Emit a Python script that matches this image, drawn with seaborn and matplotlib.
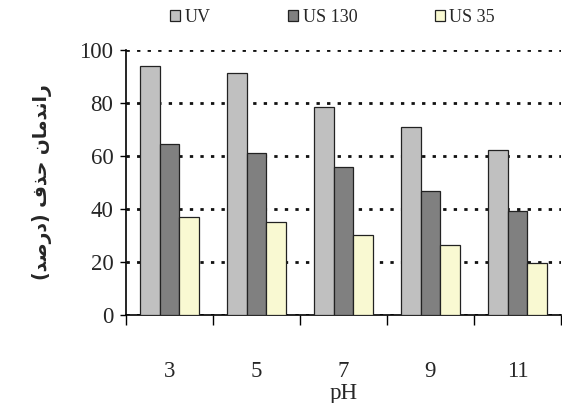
import matplotlib
matplotlib.use('AGG')
import matplotlib.pyplot as plt
import seaborn as sns
import pandas as pd

ph = ['3', '5', '7', '9', '11']
uv = [94, 91.5, 78.5, 71, 62.3]
us130 = [64.6, 61, 55.7, 46.8, 39.1]
us35 = [37.1, 35.3, 30.2, 26.4, 19.5]
series = ['UV', 'US 130', 'US 35']
colors = ['#C0C0C0', '#808080', '#FFFFCC']

# persian label, pre-shaped (presentation forms, visual order)
ylab = ('(\uFEAA\uFEBB\uFEAD\uFEA9) \uFED1\uFEAC\uFEA3 '
        '\uFEE5\uFE8E\uFEE3\uFEAA\uFEE7\uFE8D\uFEAD')

df = pd.DataFrame({
    'pH': ph * 3,
    'val': uv + us130 + us35,
    'series': [s for s in series for _ in ph],
})

sns.set_style('white')
plt.rcParams['font.family'] = ['Liberation Serif', 'DejaVu Serif']

fig = plt.figure(figsize=(5.62, 4.03), dpi=100)
ax = fig.add_axes([0.224, 0.218, 0.774, 0.658])

sns.barplot(data=df, x='pH', y='val', hue='series', palette=colors,
            width=0.68, edgecolor='#222222', linewidth=0.9, ax=ax, zorder=3)

ax.set_ylim(0, 100)
ax.set_xlim(-0.5, 4.5)
ax.set_yticks([0, 20, 40, 60, 80, 100])
ax.tick_params(axis='y', labelsize=16.5, length=4, width=1, direction='out',
               left=True, color='black', pad=5)
ax.yaxis.grid(True, linestyle=(0, (1.2, 2.6)), linewidth=2, color='#111111', zorder=0)
ax.xaxis.grid(False)

# category boundaries as ticks, labels at centres
ax.set_xticks([-0.5, 0.5, 1.5, 2.5, 3.5, 4.5])
ax.set_xticklabels([])
ax.set_xticks(range(len(ph)), minor=True)
ax.set_xticklabels(ph, minor=True)
ax.tick_params(axis='x', which='major', length=7, width=1, direction='out',
               bottom=True, color='black')
ax.tick_params(axis='x', which='minor', length=0, labelsize=16.5, pad=33)
ax.set_xlabel('pH', fontsize=16.5, labelpad=1)

ax.set_ylabel(ylab, fontsize=13.5, fontweight='bold',
              family=['DejaVu Sans'], labelpad=20)

for s in ['top', 'right']:
    ax.spines[s].set_visible(False)
for s in ['left', 'bottom']:
    ax.spines[s].set_color('black')
    ax.spines[s].set_linewidth(1.2)

handles, labels = ax.get_legend_handles_labels()
ax.legend(handles, labels, ncol=3, frameon=False, fontsize=13,
          loc='center', bbox_to_anchor=(0.475, 1.124), handlelength=0.55,
          handleheight=0.55, handletextpad=0.25, columnspacing=4.3)

plt.savefig('out.png', dpi=100)
